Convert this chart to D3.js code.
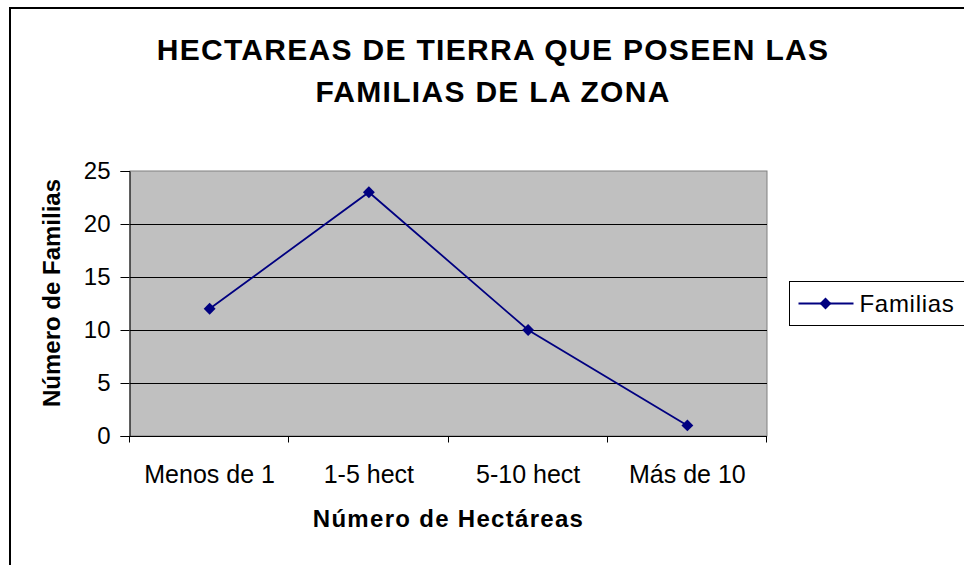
<!DOCTYPE html>
<meta charset="utf-8">
<head>
    <title>Hectareas de tierra</title>
    <style>
        body { margin: 0; background: #fff; }
        svg { display: block; font-family: Arial, "Liberation Sans", sans-serif; }
    </style>
</head>
<body>
    <svg width="964" height="565"></svg>
    <script src="https://d3js.org/d3.v7.min.js"></script>
    <script>
        // data
        var categories = ["Menos de 1", "1-5 hect", "5-10 hect", "Más de 10"];
        var familias = [12, 23, 10, 1];
        var yTicks = [0, 5, 10, 15, 20, 25];
        var titleLines = ["HECTAREAS DE TIERRA QUE POSEEN LAS", "FAMILIAS DE LA ZONA"];

        var svg = d3.select("svg"),
            width = +svg.attr("width"),
            height = +svg.attr("height");

        // outer chart border (runs off the right/bottom edge)
        svg.append("rect")
            .attr("x", 10).attr("y", 8)
            .attr("width", 1000).attr("height", 1000)
            .attr("fill", "none")
            .attr("stroke", "black")
            .attr("stroke-width", 2);

        var plot = { left: 130, top: 171, right: 767, bottom: 436 };

        var x = d3.scaleBand()
            .domain(categories)
            .range([plot.left, plot.right]);

        var y = d3.scaleLinear()
            .domain([0, 25])
            .range([plot.bottom, plot.top]);

        // grey plot area
        svg.append("rect")
            .attr("x", plot.left).attr("y", plot.top)
            .attr("width", plot.right - plot.left)
            .attr("height", plot.bottom - plot.top)
            .attr("fill", "#c0c0c0")
            .attr("stroke", "#808080")
            .attr("stroke-width", 1);

        // gridlines
        svg.append("g")
            .selectAll("line")
            .data(yTicks.filter(function(d) { return d > 0 && d < 25; }))
            .enter().append("line")
            .attr("x1", plot.left).attr("x2", plot.right)
            .attr("y1", function(d) { return Math.round(y(d)) + 0.5; })
            .attr("y2", function(d) { return Math.round(y(d)) + 0.5; })
            .attr("stroke", "black")
            .attr("stroke-width", 1);

        // y axis
        var yAxis = svg.append("g")
            .attr("transform", "translate(" + (plot.left - 0.5) + ",0)")
            .call(d3.axisLeft(y).tickValues(yTicks).tickSize(9).tickPadding(10));
        yAxis.select(".domain").attr("stroke", "black");
        yAxis.selectAll(".tick line").attr("stroke", "black");
        yAxis.selectAll(".tick text")
            .attr("font-size", 24)
            .attr("font-family", "Arial, 'Liberation Sans', sans-serif")
            .attr("fill", "black");

        // x axis
        var xAxis = svg.append("g")
            .attr("transform", "translate(0," + (plot.bottom + 0.5) + ")");
        xAxis.append("line")
            .attr("x1", plot.left - 9).attr("x2", plot.right)
            .attr("stroke", "black");
        xAxis.selectAll(".xtick")
            .data(categories.concat([null]))
            .enter().append("line")
            .attr("class", "xtick")
            .attr("x1", function(d, i) { return Math.round(i < categories.length ? x(d) : x.range()[1]) - 0.5; })
            .attr("x2", function(d, i) { return Math.round(i < categories.length ? x(d) : x.range()[1]) - 0.5; })
            .attr("y1", 0).attr("y2", 6)
            .attr("stroke", "black");
        xAxis.selectAll("text")
            .data(categories)
            .enter().append("text")
            .attr("x", function(d) { return x(d) + x.bandwidth() / 2; })
            .attr("y", 46)
            .attr("text-anchor", "middle")
            .attr("font-size", 25)
            .attr("fill", "black")
            .text(function(d) { return d; });

        // line series
        var line = d3.line()
            .x(function(d, i) { return x(categories[i]) + x.bandwidth() / 2; })
            .y(function(d) { return y(d); });

        svg.append("path")
            .datum(familias)
            .attr("d", line)
            .attr("fill", "none")
            .attr("stroke", "#000080")
            .attr("stroke-width", 1.8);

        var diamond = d3.symbol().type(d3.symbolDiamond2).size(90);

        svg.append("g")
            .selectAll("path")
            .data(familias)
            .enter().append("path")
            .attr("d", diamond)
            .attr("transform", function(d, i) {
                return "translate(" + (x(categories[i]) + x.bandwidth() / 2) + "," + y(d) + ")";
            })
            .attr("fill", "#000080");

        // titles
        svg.append("g")
            .selectAll("text")
            .data(titleLines)
            .enter().append("text")
            .attr("x", 493)
            .attr("y", function(d, i) { return 60 + i * 42; })
            .attr("text-anchor", "middle")
            .attr("font-size", 30)
            .attr("font-weight", "bold")
            .attr("letter-spacing", 1.3)
            .attr("fill", "black")
            .text(function(d) { return d; });

        svg.append("text")
            .attr("x", (plot.left + plot.right) / 2)
            .attr("y", 527)
            .attr("text-anchor", "middle")
            .attr("font-size", 24)
            .attr("font-weight", "bold")
            .attr("letter-spacing", 1.3)
            .text("Número de Hectáreas");

        svg.append("text")
            .attr("transform", "translate(60,293) rotate(-90)")
            .attr("text-anchor", "middle")
            .attr("font-size", 24)
            .attr("font-weight", "bold")
            .text("Número de Familias");

        // legend
        var legend = svg.append("g")
            .attr("transform", "translate(789.5,281.5)");
        legend.append("rect")
            .attr("width", 200).attr("height", 44)
            .attr("fill", "white")
            .attr("stroke", "black");
        legend.append("line")
            .attr("x1", 9).attr("x2", 64)
            .attr("y1", 22).attr("y2", 22)
            .attr("stroke", "#000080")
            .attr("stroke-width", 1.8);
        legend.append("path")
            .attr("d", diamond)
            .attr("transform", "translate(36,22)")
            .attr("fill", "#000080");
        legend.append("text")
            .attr("x", 70).attr("y", 30.5)
            .attr("font-size", 24)
            .attr("letter-spacing", 0.7)
            .text("Familias");
    </script>
</body>
